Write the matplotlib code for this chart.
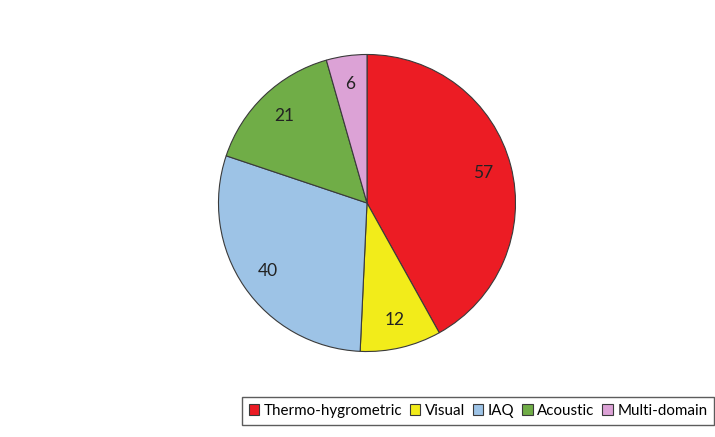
import matplotlib
matplotlib.use('Agg')
import matplotlib.pyplot as plt

plt.rcParams['font.family'] = ['Lato', 'DejaVu Sans']

# Data
categories = ['Thermo-hygrometric', 'Visual', 'IAQ', 'Acoustic', 'Multi-domain']
counts = [57, 12, 40, 21, 6]
colors = ['#EC1C24', '#F2EC1A', '#9DC3E6', '#70AD47', '#DCA2D6']

fig = plt.figure(figsize=(7.15, 4.37), dpi=100)
ax = fig.add_axes([217 / 715, 1 - 353 / 437, 300 / 715, 300 / 437])

total = sum(counts)
wedges, texts, autotexts = ax.pie(
    counts, colors=colors, startangle=90, counterclock=False,
    autopct=lambda p: f'{round(p * total / 100)}', pctdistance=0.81,
    wedgeprops=dict(edgecolor='#3a3a3a', linewidth=0.8),
    textprops=dict(fontsize=12.5, color='#222222'))
ax.set_xlim(-1.01, 1.01)
ax.set_ylim(-1.01, 1.01)
ax.set_aspect('equal')

leg = fig.legend(wedges, categories, loc='center', ncol=5,
                 bbox_to_anchor=(478 / 715, 1 - 411 / 437),
                 fontsize=10.9, frameon=True, fancybox=False,
                 handlelength=0.7, handleheight=0.7, handletextpad=0.3,
                 columnspacing=0.5, borderpad=0.45, borderaxespad=0)
leg.get_frame().set_edgecolor('#333333')
leg.get_frame().set_linewidth(1.0)

fig.savefig('out.png', dpi=100)
